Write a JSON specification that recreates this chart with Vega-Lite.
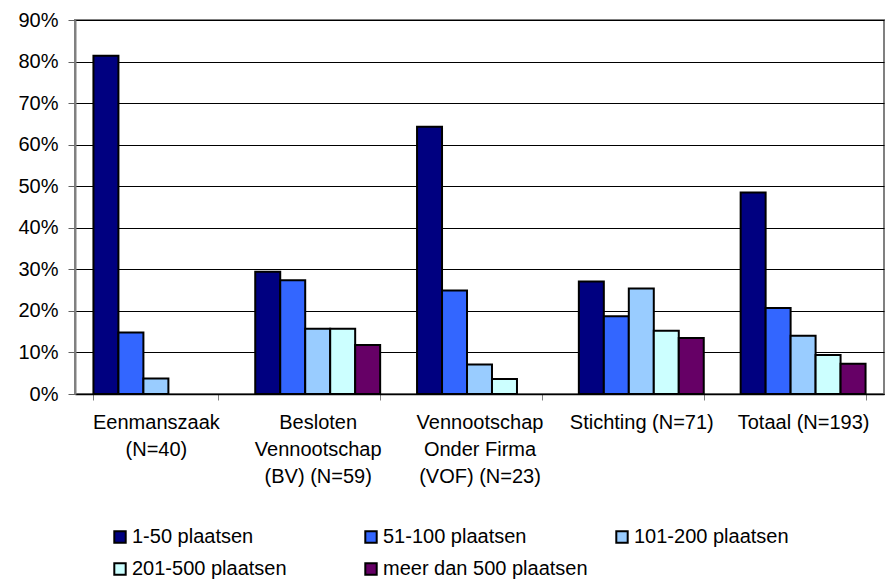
{
  "$schema": "https://vega.github.io/schema/vega-lite/v6.json",
  "width": 809,
  "height": 374,
  "autosize": "none",
  "padding": {"left": 75, "top": 20, "right": 2, "bottom": 191},
  "config": {
    "font": "Liberation Sans",
    "view": {"stroke": "#808080", "strokeWidth": 2},
    "axis": {"labelFont": "Liberation Sans", "labelColor": "black", "labelFontSize": 20}
  },
  "data": {
    "values": [
      {"cat": "Eenmanszaak|(N=40)", "size": "1-50 plaatsen", "v": 81.4},
      {"cat": "Eenmanszaak|(N=40)", "size": "51-100 plaatsen", "v": 14.8},
      {"cat": "Eenmanszaak|(N=40)", "size": "101-200 plaatsen", "v": 3.7},
      {"cat": "Eenmanszaak|(N=40)", "size": "201-500 plaatsen", "v": 0},
      {"cat": "Eenmanszaak|(N=40)", "size": "meer dan 500 plaatsen", "v": 0},
      {"cat": "Besloten|Vennootschap|(BV) (N=59)", "size": "1-50 plaatsen", "v": 29.4},
      {"cat": "Besloten|Vennootschap|(BV) (N=59)", "size": "51-100 plaatsen", "v": 27.4},
      {"cat": "Besloten|Vennootschap|(BV) (N=59)", "size": "101-200 plaatsen", "v": 15.7},
      {"cat": "Besloten|Vennootschap|(BV) (N=59)", "size": "201-500 plaatsen", "v": 15.7},
      {"cat": "Besloten|Vennootschap|(BV) (N=59)", "size": "meer dan 500 plaatsen", "v": 11.8},
      {"cat": "Vennootschap|Onder Firma|(VOF) (N=23)", "size": "1-50 plaatsen", "v": 64.3},
      {"cat": "Vennootschap|Onder Firma|(VOF) (N=23)", "size": "51-100 plaatsen", "v": 24.9},
      {"cat": "Vennootschap|Onder Firma|(VOF) (N=23)", "size": "101-200 plaatsen", "v": 7.1},
      {"cat": "Vennootschap|Onder Firma|(VOF) (N=23)", "size": "201-500 plaatsen", "v": 3.6},
      {"cat": "Vennootschap|Onder Firma|(VOF) (N=23)", "size": "meer dan 500 plaatsen", "v": 0},
      {"cat": "Stichting (N=71)", "size": "1-50 plaatsen", "v": 27.1},
      {"cat": "Stichting (N=71)", "size": "51-100 plaatsen", "v": 18.7},
      {"cat": "Stichting (N=71)", "size": "101-200 plaatsen", "v": 25.4},
      {"cat": "Stichting (N=71)", "size": "201-500 plaatsen", "v": 15.2},
      {"cat": "Stichting (N=71)", "size": "meer dan 500 plaatsen", "v": 13.5},
      {"cat": "Totaal (N=193)", "size": "1-50 plaatsen", "v": 48.5},
      {"cat": "Totaal (N=193)", "size": "51-100 plaatsen", "v": 20.7},
      {"cat": "Totaal (N=193)", "size": "101-200 plaatsen", "v": 14.0},
      {"cat": "Totaal (N=193)", "size": "201-500 plaatsen", "v": 9.4},
      {"cat": "Totaal (N=193)", "size": "meer dan 500 plaatsen", "v": 7.3}
    ]
  },
  "mark": {"type": "bar", "stroke": "black", "strokeWidth": 2},
  "encoding": {
    "x": {
      "field": "cat",
      "type": "nominal",
      "sort": null,
      "scale": {"paddingInner": 0.228, "paddingOuter": 0.114},
      "axis": {
        "title": null,
        "labelAngle": 0,
        "labelExpr": "split(datum.label, '|')",
        "labelLineHeight": 27,
        "tickBand": "extent",
        "tickColor": "#808080",
        "tickSize": 6,
        "labelPadding": 12,
        "labelLimit": 300,
        "domainColor": "black",
        "domainWidth": 1.5
      }
    },
    "xOffset": {
      "field": "size",
      "type": "nominal",
      "sort": ["1-50 plaatsen", "51-100 plaatsen", "101-200 plaatsen", "201-500 plaatsen", "meer dan 500 plaatsen"],
      "scale": {"paddingInner": 0, "paddingOuter": 0}
    },
    "y": {
      "field": "v",
      "type": "quantitative",
      "scale": {"domain": [0, 90], "nice": false},
      "axis": {
        "title": null,
        "values": [0, 10, 20, 30, 40, 50, 60, 70, 80, 90],
        "labelExpr": "datum.value + '%'",
        "grid": true,
        "gridColor": "black",
        "gridWidth": 1,
        "gridOpacity": 1,
        "domainColor": "#808080",
        "domainWidth": 2,
        "tickColor": "#606060",
        "tickSize": 7,
        "labelPadding": 10
      }
    },
    "strokeOpacity": {"condition": {"test": "datum.v == 0", "value": 0}, "value": 1},
    "fill": {
      "field": "size",
      "type": "nominal",
      "sort": ["1-50 plaatsen", "51-100 plaatsen", "101-200 plaatsen", "201-500 plaatsen", "meer dan 500 plaatsen"],
      "scale": {"range": ["#000080", "#3366FF", "#99CCFF", "#CCFFFF", "#660066"]},
      "legend": {
        "title": null,
        "orient": "none",
        "legendX": 35,
        "legendY": 507,
        "direction": "horizontal",
        "columns": 3,
        "gridAlign": "all",
        "columnPadding": 24,
        "rowPadding": 12,
        "symbolType": "square",
        "symbolSize": 130,
        "symbolFillOpacity": 1,
        "symbolStrokeColor": "black",
        "symbolStrokeWidth": 2,
        "symbolOffset": 0,
        "labelOffset": 2,
        "labelFont": "Liberation Sans",
        "labelFontSize": 20,
        "labelColor": "black",
        "labelLimit": 300
      }
    }
  }
}
